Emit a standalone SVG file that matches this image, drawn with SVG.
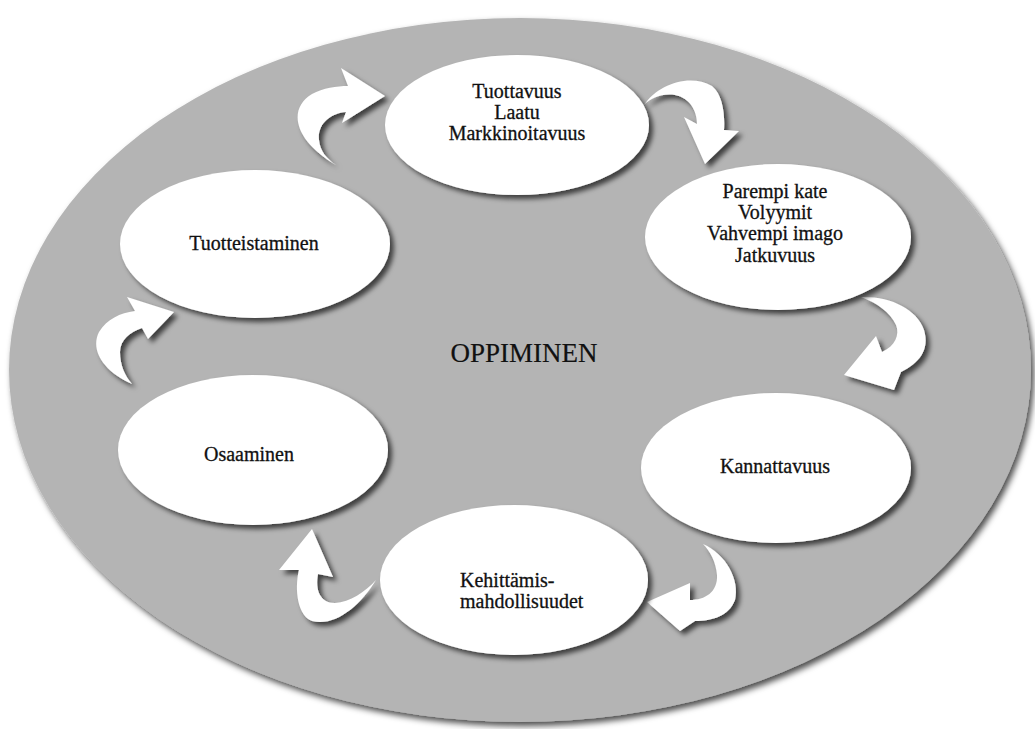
<svg xmlns="http://www.w3.org/2000/svg" width="1035" height="729" viewBox="0 0 1035 729">
  <defs>
    <filter id="sh" x="-10%" y="-10%" width="125%" height="130%">
      <feDropShadow dx="4" dy="4" stdDeviation="2.5" flood-color="#000" flood-opacity="0.65"/>
    </filter>
    <filter id="shb" x="-5%" y="-5%" width="112%" height="115%">
      <feDropShadow dx="3" dy="4" stdDeviation="3" flood-color="#000" flood-opacity="0.7"/>
    </filter>
    <style>
      .node { fill: #ffffff; filter: url(#sh); }
      .arr { fill: #ffffff; filter: url(#sh); }
      .t, .tl, .big { fill: #111111; stroke: #111111; stroke-width: 0.3; }
      .t { font-size: 20px; text-anchor: middle; }
      .tl { font-size: 20px; }
      .big { font-size: 27px; text-anchor: middle; stroke-width: 0.2; }
    </style>
  </defs>
  <rect width="1035" height="729" fill="#ffffff"/>
  <g id="background" font-family="Liberation Serif, Times New Roman, serif">
    <ellipse cx="520" cy="370" rx="511" ry="352" fill="#b4b4b4" filter="url(#shb)"/>
    <text class="big" x="524" y="362">OPPIMINEN</text>
  </g>
  <g id="connectors">
    <path class="arr" d="M 336,165 C 296,142 286,110 312,94 C 323,88 337,86 348,86 L 341,68 L 385,96 L 342,123 L 346,112 C 330,113 317,125 319,140 C 320,151 327,159 336,165 Z"/>
    <path class="arr" d="M 644,105 C 658,84 690,73 712,86 C 723,95 725,115 724,130 L 739,131 L 705,164 L 684,117 L 697,124 C 697,111 690,98 675,95 C 662,93 651,98 644,105 Z"/>
    <path class="arr" d="M 861,297 C 890,296 917,309 924,330 C 930,350 919,363 901,372 L 894,390 L 844,375 L 876,336 L 882,352 C 895,346 900,335 896,325 C 890,312 877,303 861,297 Z"/>
    <path class="arr" d="M 703,544 C 726,554 740,580 735,600 C 729,616 712,621 695,621 L 680,631 L 647,602 L 690,583 L 690,600 C 705,600 718,592 717,575 C 716,562 710,551 703,544 Z"/>
    <path class="arr" d="M 376,580 C 360,606 335,627 312,621 C 298,616 294,590 299,570 L 279,570 L 312,529 L 333,577 L 318,574 C 315,590 320,603 335,603 C 350,602 365,592 376,580 Z"/>
    <path class="arr" d="M 132,384 C 103,371 90,350 99,332 C 107,319 120,313 135,311 L 127,297 L 174,312 L 148,339 L 142,328 C 130,332 120,340 120,352 C 120,365 125,376 132,384 Z"/>
  </g>
  <g id="node-tuottavuus" font-family="Liberation Serif, Times New Roman, serif">
    <ellipse class="node" cx="517" cy="125" rx="132" ry="70"/>
    <text class="t" x="517" y="98">Tuottavuus</text>
    <text class="t" x="517" y="119">Laatu</text>
    <text class="t" x="517" y="140">Markkinoitavuus</text>
  </g>
  <g id="node-parempi" font-family="Liberation Serif, Times New Roman, serif">
    <ellipse class="node" cx="778" cy="237" rx="133" ry="73"/>
    <text class="t" x="775" y="198">Parempi kate</text>
    <text class="t" x="775" y="219">Volyymit</text>
    <text class="t" x="775" y="240">Vahvempi imago</text>
    <text class="t" x="775" y="262">Jatkuvuus</text>
  </g>
  <g id="node-kannattavuus" font-family="Liberation Serif, Times New Roman, serif">
    <ellipse class="node" cx="776" cy="468" rx="135" ry="75"/>
    <text class="t" x="775" y="473">Kannattavuus</text>
  </g>
  <g id="node-kehittamis" font-family="Liberation Serif, Times New Roman, serif">
    <ellipse class="node" cx="514" cy="580" rx="134" ry="75"/>
    <text class="tl" x="460" y="587">Kehittämis-</text>
    <text class="tl" x="460" y="608">mahdollisuudet</text>
  </g>
  <g id="node-osaaminen" font-family="Liberation Serif, Times New Roman, serif">
    <ellipse class="node" cx="253" cy="450" rx="135" ry="75"/>
    <text class="t" x="249" y="461">Osaaminen</text>
  </g>
  <g id="node-tuotteistaminen" font-family="Liberation Serif, Times New Roman, serif">
    <ellipse class="node" cx="255" cy="244" rx="135" ry="74"/>
    <text class="t" x="254" y="250">Tuotteistaminen</text>
  </g>
</svg>
